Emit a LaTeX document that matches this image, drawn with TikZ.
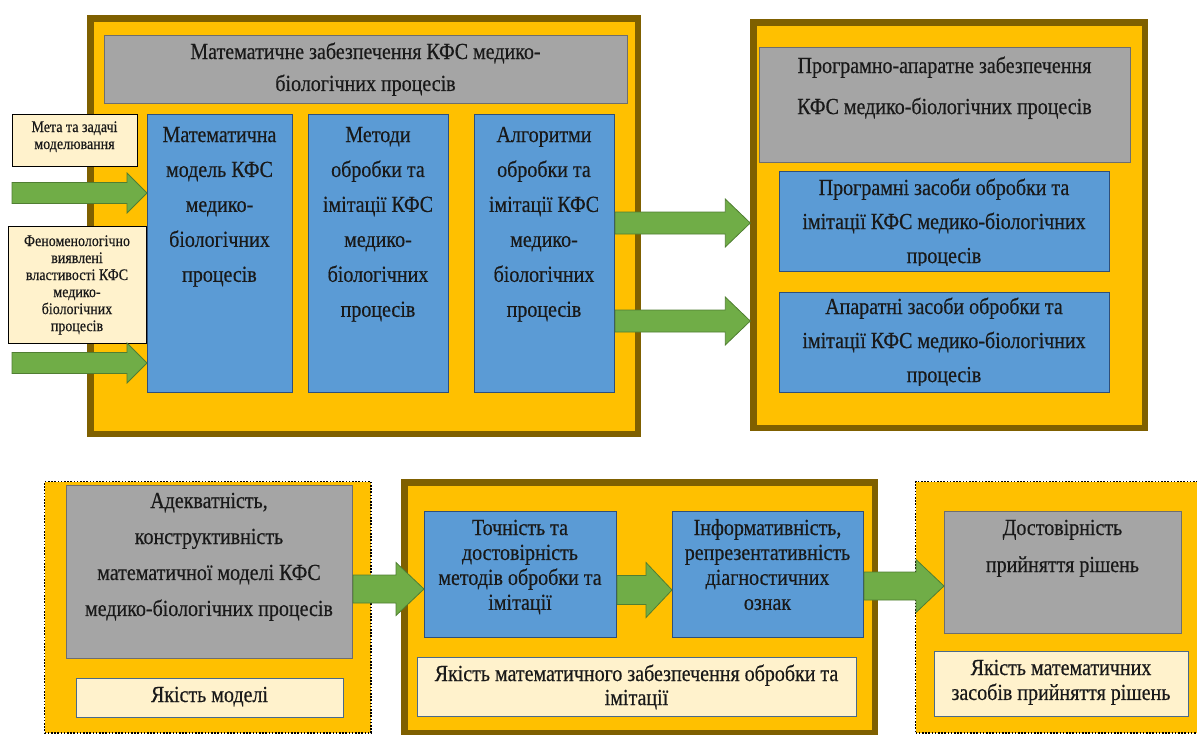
\documentclass[tikz,border=0pt]{standalone}
\usepackage{fontspec}
\setmainfont{Liberation Serif}
\newfontfamily\tnr{Liberation Serif}[FakeBold=0.5]
\usetikzlibrary{calc}
\definecolor{yel}{HTML}{FFC000}
\definecolor{brn}{HTML}{7F6000}
\definecolor{gry}{HTML}{A5A5A5}
\definecolor{gryd}{HTML}{6E6E6E}
\definecolor{blu}{HTML}{5B9BD5}
\definecolor{blud}{HTML}{2F4F7A}
\definecolor{crm}{HTML}{FFF2CC}
\definecolor{crmd}{HTML}{4A6A8A}
\definecolor{grn}{HTML}{70AD47}
\definecolor{grnd}{HTML}{507E32}
\newcommand\bt[3]{\scalebox{1}[1.15]{\parbox[t]{460pt}{\centering\tnr\fontsize{#1}{#2}\selectfont #3\par}}}
\newcommand\place[6]{\node[#2, minimum width={#5-#3}, minimum height={#6-#4}] (#1) at (#3,#4) {};}
\newcommand\garr[5]{\draw[garrow] let \p1=#1, \p2=#2 in (\x1,\y1+#3pt) -- (\x2-#5pt,\y1+#3pt) -- (\x2-#5pt,\y1+#4pt) -- (\x2,\y1) -- (\x2-#5pt,\y1-#4pt) -- (\x2-#5pt,\y1-#3pt) -- (\x1,\y1-#3pt) -- cycle;}
\tikzset{
 base/.style={inner sep=0pt, outer sep=auto, anchor=north west},
 frame/.style={base, draw=brn, fill=yel, line width=6.5pt},
 dotbox/.style={base, draw=black, fill=yel, line width=1.6pt, dash pattern=on 1.6pt off 1.6pt},
 graybox/.style={base, draw=gryd, fill=gry, line width=1pt},
 bluebox/.style={base, draw=blud, fill=blu, line width=1pt},
 creambox/.style={base, draw=black, fill=crm, line width=1pt},
 creamb/.style={base, draw=crmd, fill=crm, line width=1pt},
 txt/.style={inner sep=0pt, anchor=base, text=black!90},
 garrow/.style={fill=grn, draw=grnd, line width=0.8pt, line join=miter},
}
\begin{document}
\begin{tikzpicture}[x=1pt,y=-1pt]
\useasboundingbox (0,0) rectangle (1197,734);
% frames
\place{F1}{frame}{87.25}{15.25}{634.75}{430.75}
\place{F2}{frame}{750.25}{19.25}{1141.75}{424.75}
\place{F3}{frame}{401.25}{479.25}{871.75}{729.75}
\place{D1}{dotbox}{43.8}{480.8}{370.2}{732.2}
\place{D2}{dotbox}{914.8}{480.8}{1215}{732.2}
% top left
\place{g0}{graybox}{104}{35}{627}{103}
\place{m1}{bluebox}{147}{114}{292}{392}
\place{m2}{bluebox}{308}{114}{448}{392}
\place{m3}{bluebox}{474}{114}{614}{392}
\place{in1}{creambox}{12}{114}{137}{166}
\place{in2}{creambox}{8}{226}{146}{343}
% top right
\place{gR}{graybox}{759}{47}{1130}{162}
\place{r1}{bluebox}{779}{171}{1109}{271}
\place{r2}{bluebox}{779}{292}{1109}{392}
% bottom
\place{g1}{graybox}{66}{485}{352}{658}
\place{c1}{creamb}{76}{678}{343}{717}
\place{qA}{bluebox}{424}{511}{616}{637}
\place{qB}{bluebox}{672}{511}{863}{637}
\place{c2}{creamb}{417}{657}{856}{716}
\place{g2}{graybox}{944}{511}{1181}{633}
\place{c3}{creamb}{934}{651}{1188}{716}
% texts
\node[txt] (tg0) at (365.5,59) {\bt{20}{27.8}{Математичне забезпечення КФС медико-\\біологічних процесів}};
\node[txt] (tm1) at (219.5,142) {\bt{20}{30.4}{Математична\\модель КФС\\медико-\\біологічних\\процесів}};
\node[txt] (tm2) at (378,142) {\bt{20}{30.4}{Методи\\обробки та\\імітації КФС\\медико-\\біологічних\\процесів}};
\node[txt] (tm3) at (544,142) {\bt{20}{30.4}{Алгоритми\\обробки та\\імітації КФС\\медико-\\біологічних\\процесів}};
\node[txt] (tin1) at (74.5,132) {\bt{14}{14.8}{Мета та задачі\\моделювання}};
\node[txt] (tin2) at (77,246) {\bt{14}{14.8}{Феноменологічно\\виявлені\\властивості КФС\\медико-\\біологічних\\процесів}};
\node[txt] (tgR) at (944.5,73) {\bt{20}{35.7}{Програмно-апаратне забезпечення\\КФС медико-біологічних процесів}};
\begin{scope}
\clip (779,171) rectangle (1109,265);
\node[txt] (tr1) at (944,195) {\bt{20}{29.6}{Програмні засоби обробки та\\імітації КФС медико-біологічних\\процесів}};
\end{scope}
\begin{scope}
\clip (779,292) rectangle (1109,385);
\node[txt] (tr2) at (944,314) {\bt{20}{29.6}{Апаратні засоби обробки та\\імітації КФС медико-біологічних\\процесів}};
\end{scope}
\node[txt] (tg1) at (209,508) {\bt{20}{31.3}{Адекватність,\\конструктивність\\математичної моделі КФС\\медико-біологічних процесів}};
\node[txt] (tc1) at (209.5,702) {\bt{20}{20}{Якість моделі}};
\node[txt] (tqA) at (520,535) {\bt{20}{21.7}{Точність та\\достовірність\\методів обробки та\\імітації}};
\node[txt] (tqB) at (767.5,535) {\bt{20}{21.7}{Інформативність,\\репрезентативність\\діагностичних\\ознак}};
\node[txt] (tc2) at (636.5,681) {\bt{20}{20.9}{Якість математичного забезпечення обробки та\\імітації}};
\node[txt] (tg2) at (1062.5,535) {\bt{20}{32.2}{Достовірність\\прийняття рішень}};
\node[txt] (tc3) at (1061,675) {\bt{20}{21.7}{Якість математичних\\засобів прийняття рішень}};
% arrows
\coordinate (a1s) at (12,193);
\coordinate (a2s) at (12,363);
\coordinate (ya3) at (0,223);
\coordinate (ya4) at (0,321);
\coordinate (yb1) at (0,589);
\coordinate (yb2) at (0,590);
\coordinate (yb3) at (0,586);
\garr{(a1s)}{(m1.west |- a1s)}{10.5}{20}{20}
\garr{(a2s)}{(m1.west |- a2s)}{10.5}{20}{20}
\garr{(m3.east |- ya3)}{(F2.west |- ya3)}{11}{24}{25}
\garr{(m3.east |- ya4)}{(F2.west |- ya4)}{11}{24}{25}
\garr{(g1.east |- yb1)}{(qA.west |- yb1)}{14}{26.5}{28}
\garr{(qA.east |- yb2)}{(qB.west |- yb2)}{14.5}{27.5}{26}
\garr{(qB.east |- yb3)}{(g2.west |- yb3)}{14}{26.5}{28}
\end{tikzpicture}
\end{document}
